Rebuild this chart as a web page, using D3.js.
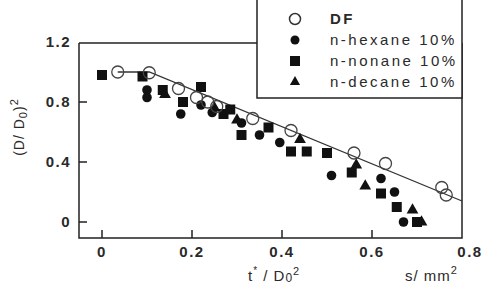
<!DOCTYPE html>
<html>
<head>
<meta charset="utf-8">
<script src="https://cdn.jsdelivr.net/npm/d3@7"></script>
<style>
  body { margin: 0; background: #fff; }
  text { font-family: "Liberation Sans", Arial, sans-serif; fill: #2a2a2a; }
</style>
</head>
<body>
<div id="chart"></div>
<script>
// data: [t*/D0^2, (D/D0)^2]
const dfPoints = [[0.035,1.0],[0.105,0.995],[0.17,0.89],[0.21,0.83],[0.235,0.8],[0.255,0.77],
  [0.335,0.69],[0.42,0.61],[0.56,0.46],[0.63,0.39],[0.755,0.23],[0.765,0.18]];
const hexanePoints = [[0.1,0.88],[0.1,0.83],[0.175,0.72],[0.22,0.78],[0.245,0.73],[0.31,0.66],
  [0.35,0.58],[0.395,0.53],[0.51,0.31],[0.62,0.29],[0.65,0.2],[0.67,0.0]];
const nonanePoints = [[0.0,0.98],[0.09,0.97],[0.135,0.88],[0.18,0.8],[0.22,0.9],[0.27,0.72],
  [0.285,0.75],[0.31,0.58],[0.37,0.63],[0.42,0.47],[0.455,0.47],[0.5,0.46],[0.555,0.33],
  [0.62,0.19],[0.655,0.1],[0.7,0.0]];
const decanePoints = [[0.14,0.85],[0.25,0.76],[0.3,0.68],[0.44,0.55],[0.565,0.38],[0.585,0.24],
  [0.69,0.08],[0.71,0.0]];
const fitLine = [[0.035,1.0],[0.105,1.0],[0.8,0.14]];
const xTicks = [0, 0.2, 0.4, 0.6, 0.8];
const yTicks = [0, 0.4, 0.8, 1.2];
const legendLabels = ["DF", "n-hexane 10%", "n-nonane 10%", "n-decane 10%"];

const width = 484, height = 287;
const frame = { left: 79, right: 462, top: 43, bottom: 238 };

const svg = d3.select("#chart").append("svg")
  .attr("width", width)
  .attr("height", height);

const x = d3.scaleLinear().domain([0, 0.8]).range([102, 462]);
const y = d3.scaleLinear().domain([0, 1.2]).range([222, 42]);

const ink = "#222";

// frame (top edge stops at the legend box)
svg.append("path")
  .attr("d", `M${frame.left},${frame.top}V${frame.bottom}H${frame.right}V${frame.top}`)
  .attr("fill", "none").attr("stroke", ink).attr("stroke-width", 1.5);
svg.append("line")
  .attr("x1", frame.left).attr("x2", 257).attr("y1", frame.top).attr("y2", frame.top)
  .attr("stroke", ink).attr("stroke-width", 1.5);

// y ticks (inward) and labels
svg.selectAll("line.ytick").data(yTicks.filter(d => d < 1.2)).enter().append("line")
  .attr("class", "ytick")
  .attr("x1", frame.left).attr("x2", frame.left + 8)
  .attr("y1", d => y(d)).attr("y2", d => y(d))
  .attr("stroke", ink).attr("stroke-width", 1.5);
svg.selectAll("text.ylab").data(yTicks).enter().append("text")
  .attr("class", "ylab")
  .attr("x", 71).attr("y", d => y(d) + 5)
  .attr("text-anchor", "end")
  .style("font-size", "15px").style("font-weight", "bold").style("letter-spacing", "1.5px")
  .text(d => d === 0 ? "0" : d3.format(".1f")(d));

// x ticks (inward) and labels
svg.selectAll("line.xtick").data(xTicks.filter(d => d < 0.8)).enter().append("line")
  .attr("class", "xtick")
  .attr("x1", d => x(d)).attr("x2", d => x(d))
  .attr("y1", frame.bottom).attr("y2", frame.bottom - 8)
  .attr("stroke", ink).attr("stroke-width", 1.5);
svg.selectAll("text.xlab").data(xTicks).enter().append("text")
  .attr("class", "xlab")
  .attr("x", d => x(d) + (d === 0.8 ? 8 : 0)).attr("y", 257)
  .attr("text-anchor", "middle")
  .style("font-size", "15px").style("font-weight", "bold").style("letter-spacing", "1.5px")
  .text(d => d === 0 ? "0" : d3.format(".1f")(d));

// axis titles
const yTitle = svg.append("text")
  .attr("transform", "translate(24,127) rotate(-90)")
  .attr("text-anchor", "middle")
  .style("font-size", "14px").style("letter-spacing", "1px");
yTitle.append("tspan").text("(D/ D");
yTitle.append("tspan").attr("dy", 3).style("font-size", "11px").text("0");
yTitle.append("tspan").attr("dy", -3).text(")");
yTitle.append("tspan").attr("dy", -6).style("font-size", "11px").text("2");

const xTitle = svg.append("text")
  .attr("x", 248).attr("y", 281)
  .style("font-size", "15px").style("letter-spacing", "1px");
xTitle.append("tspan").text("t");
xTitle.append("tspan").attr("dy", -7).style("font-size", "10px").text("*");
xTitle.append("tspan").attr("dy", 7).text(" / D");
xTitle.append("tspan").attr("dy", 1).style("font-size", "12px").text("0");
xTitle.append("tspan").attr("dy", -7).style("font-size", "11px").text("2");

const unit = svg.append("text")
  .attr("x", 405).attr("y", 281)
  .style("font-size", "15px").style("letter-spacing", "1px");
unit.append("tspan").text("s/ mm");
unit.append("tspan").attr("dy", -7).style("font-size", "11px").text("2");

// fit line
svg.append("path")
  .datum(fitLine)
  .attr("d", d3.line().x(d => x(d[0])).y(d => y(d[1])))
  .attr("fill", "none").attr("stroke", "#333").attr("stroke-width", 1.3);

// markers
const plot = svg.append("g");
plot.selectAll("rect.nonane").data(nonanePoints).enter().append("rect")
  .attr("class", "nonane")
  .attr("x", d => x(d[0]) - 5).attr("y", d => y(d[1]) - 5)
  .attr("width", 10).attr("height", 10)
  .attr("fill", "#111");
plot.selectAll("circle.hexane").data(hexanePoints).enter().append("circle")
  .attr("class", "hexane")
  .attr("cx", d => x(d[0])).attr("cy", d => y(d[1])).attr("r", 4.8)
  .attr("fill", "#111");
const tri = d3.symbol().type(d3.symbolTriangle).size(60);
plot.selectAll("path.decane").data(decanePoints).enter().append("path")
  .attr("class", "decane")
  .attr("transform", d => `translate(${x(d[0])},${y(d[1])})`)
  .attr("d", tri)
  .attr("fill", "#111");
plot.selectAll("circle.df").data(dfPoints).enter().append("circle")
  .attr("class", "df")
  .attr("cx", d => x(d[0])).attr("cy", d => y(d[1])).attr("r", 6)
  .attr("fill", "none").attr("stroke", "#444").attr("stroke-width", 1.3);

// legend
const legend = svg.append("g");
legend.append("rect")
  .attr("x", 257).attr("y", -2).attr("width", 205).attr("height", 100)
  .attr("fill", "#fff").attr("stroke", ink).attr("stroke-width", 1.5);
const rowY = i => 19 + i * 21;
legendLabels.forEach((label, i) => {
  const cx = 295, cy = rowY(i);
  if (i === 0) {
    legend.append("circle").attr("cx", cx).attr("cy", cy).attr("r", 5.5)
      .attr("fill", "none").attr("stroke", "#333").attr("stroke-width", 1.5);
  } else if (i === 1) {
    legend.append("circle").attr("cx", cx).attr("cy", cy).attr("r", 4.5).attr("fill", "#111");
  } else if (i === 2) {
    legend.append("rect").attr("x", cx - 5).attr("y", cy - 5).attr("width", 10).attr("height", 10).attr("fill", "#111");
  } else {
    legend.append("path").attr("transform", `translate(${cx},${cy})`)
      .attr("d", d3.symbol().type(d3.symbolTriangle).size(45)).attr("fill", "#111");
  }
  legend.append("text")
    .attr("x", 330).attr("y", cy + 5)
    .style("font-size", "15px").style("font-weight", i === 0 ? "bold" : "normal")
    .style("letter-spacing", "2.5px")
    .text(label);
});
</script>
</body>
</html>
